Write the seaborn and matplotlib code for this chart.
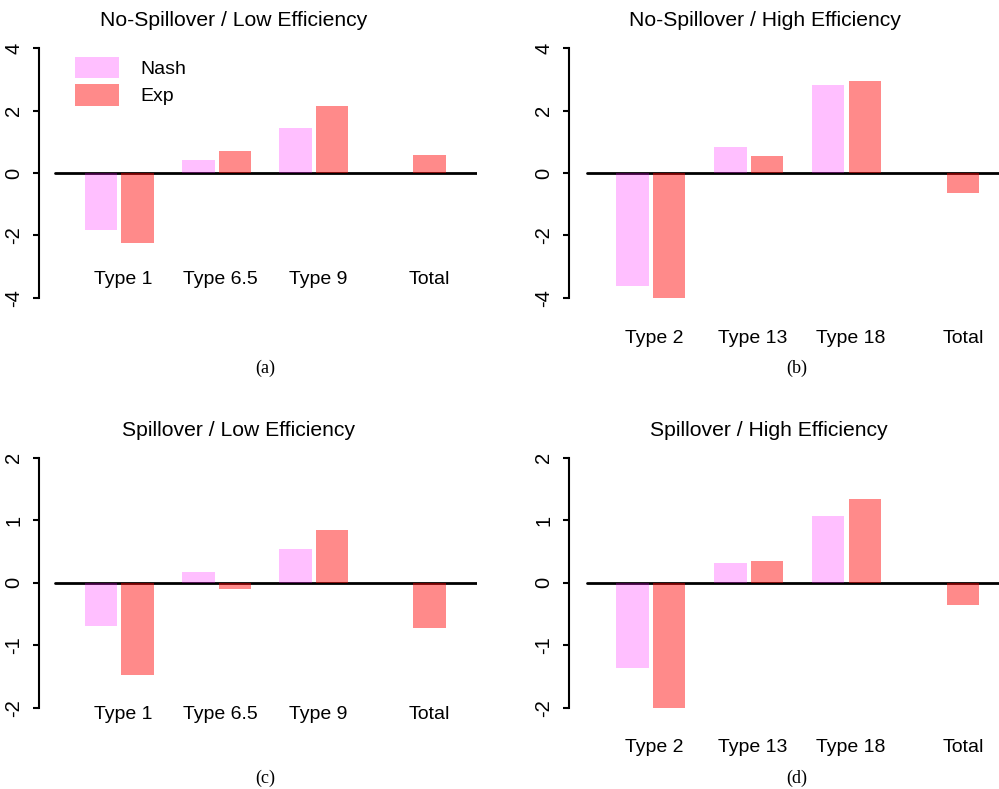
import numpy as np
import pandas as pd
import matplotlib
matplotlib.use("Agg")
import matplotlib.pyplot as plt
from matplotlib.patches import Patch
import seaborn as sns

# values
series = ["Nash", "Exp"]

cats_low = ["Type 1", "Type 6.5", "Type 9", "Total"]
cats_high = ["Type 2", "Type 13", "Type 18", "Total"]

a_nash = [-1.82, 0.43, 1.43, 0.0]
a_exp = [-2.24, 0.69, 2.16, 0.59]

b_nash = [-3.61, 0.83, 2.83, 0.0]
b_exp = [-4.09, 0.56, 2.96, -0.64]

c_nash = [-0.70, 0.165, 0.545, 0.0]
c_exp = [-1.47, -0.095, 0.845, -0.725]

d_nash = [-1.365, 0.315, 1.075, 0.0]
d_exp = [-2.02, 0.355, 1.34, -0.35]

titles = ["No-Spillover / Low Efficiency", "No-Spillover / High Efficiency",
          "Spillover / Low Efficiency", "Spillover / High Efficiency"]
captions = ["(a)", "(b)", "(c)", "(d)"]

W, H = 999, 789


def long_df(cats, nash, exp):
    return pd.DataFrame({
        "cat": cats * 2,
        "series": ["Nash"] * len(cats) + ["Exp"] * len(cats),
        "value": nash + exp,
    })


sns.set_style("white")
plt.rcParams["font.family"] = ["Liberation Sans", "DejaVu Sans"]
plt.rcParams["text.color"] = "black"
plt.rcParams["xtick.color"] = "black"
plt.rcParams["ytick.color"] = "black"

fig = plt.figure(figsize=(W / 100, H / 100), dpi=100)

colors = {"Nash": "#FF00FF", "Exp": "#FF0000"}
alphas = {"Nash": 0.25, "Exp": 0.46}

# panel layout in pixels: spine x, right x, top y, bottom y, xlim, label y (axes frac)
panels = [
    dict(cats=cats_low, nash=a_nash, exp=a_exp, box=(39, 477, 48.3, 297.7),
         xlim=(-0.826, 3.676), line0=55, ticks=[-4, -2, 0, 2, 4], laby=0.071,
         title_xy=(234, 20), cap_xy=(265, 368)),
    dict(cats=cats_high, nash=b_nash, exp=b_exp, box=(569, 999, 48.3, 297.7),
         xlim=(-0.832, 3.556), line0=587, ticks=[-4, -2, 0, 2, 4], laby=-0.162,
         title_xy=(765, 20), cap_xy=(797, 368)),
    dict(cats=cats_low, nash=c_nash, exp=c_exp, box=(39, 477, 457.7, 707.7),
         xlim=(-0.826, 3.676), line0=55, ticks=[-2, -1, 0, 1, 2], laby=-0.029,
         title_xy=(238, 431), cap_xy=(265, 778)),
    dict(cats=cats_high, nash=d_nash, exp=d_exp, box=(569, 999, 457.7, 707.7),
         xlim=(-0.832, 3.556), line0=587, ticks=[-2, -1, 0, 1, 2], laby=-0.158,
         title_xy=(769, 431), cap_xy=(797, 778)),
]

for i, p in enumerate(panels):
    x0, x1, y0, y1 = p["box"]
    ax = fig.add_axes([x0 / W, 1 - y1 / H, (x1 - x0) / W, (y1 - y0) / H])
    df = long_df(p["cats"], p["nash"], p["exp"])
    sns.barplot(data=df, x="cat", y="value", hue="series", hue_order=series,
                palette=colors, saturation=1, width=0.75, gap=0.11,
                linewidth=0, legend=False, ax=ax, zorder=2)
    for cont, s in zip(ax.containers, series):
        for bar in cont:
            bar.set_alpha(alphas[s])

    ax.axhline(0, xmin=(p["line0"] - x0) / (x1 - x0), xmax=1, color="black",
               lw=2, zorder=1)
    ax.set_xlim(*p["xlim"])
    ax.set_ylim(p["ticks"][0], p["ticks"][-1])
    ax.set_yticks(p["ticks"])
    ax.set_yticklabels([str(t) for t in p["ticks"]], rotation=90, va="center")
    ax.tick_params(axis="y", left=True, length=4.5, width=1.5, pad=7,
                   labelsize=14.5, colors="black")
    ax.set_xticks([])
    ax.set_xlabel("")
    ax.set_ylabel("")
    for side in ["top", "right", "bottom"]:
        ax.spines[side].set_visible(False)
    ax.spines["left"].set_linewidth(1.5)
    ax.spines["left"].set_color("black")
    ax.patch.set_alpha(0)

    # category names sit at custom heights, as in the original figures
    trans = ax.get_xaxis_transform()
    for k, name in enumerate(p["cats"]):
        xpos = k + 0.19 if name == "Total" else k + 0.04
        ax.text(xpos, p["laby"], name, transform=trans, ha="center",
                va="center", fontsize=14, clip_on=False)

    tx, ty = p["title_xy"]
    fig.text(tx / W, 1 - ty / H, titles[i], ha="center", va="center",
             fontsize=15.2)
    cx, cy = p["cap_xy"]
    fig.text(cx / W, 1 - cy / H, captions[i], ha="center", va="center",
             fontsize=13, family=["Liberation Serif", "DejaVu Serif"])

    if i == 0:
        handles = [Patch(facecolor=colors[s], alpha=alphas[s], linewidth=0)
                   for s in series]
        ax.legend(handles, series, loc="upper left",
                  bbox_to_anchor=((75 - x0) / (x1 - x0), (y1 - 56.7) / (y1 - y0)),
                  frameon=False, borderpad=0, borderaxespad=0, fontsize=14,
                  handlelength=2.28, handleheight=1.33, handletextpad=1.06,
                  labelspacing=0.3)

fig.savefig("out.png", dpi=100)
